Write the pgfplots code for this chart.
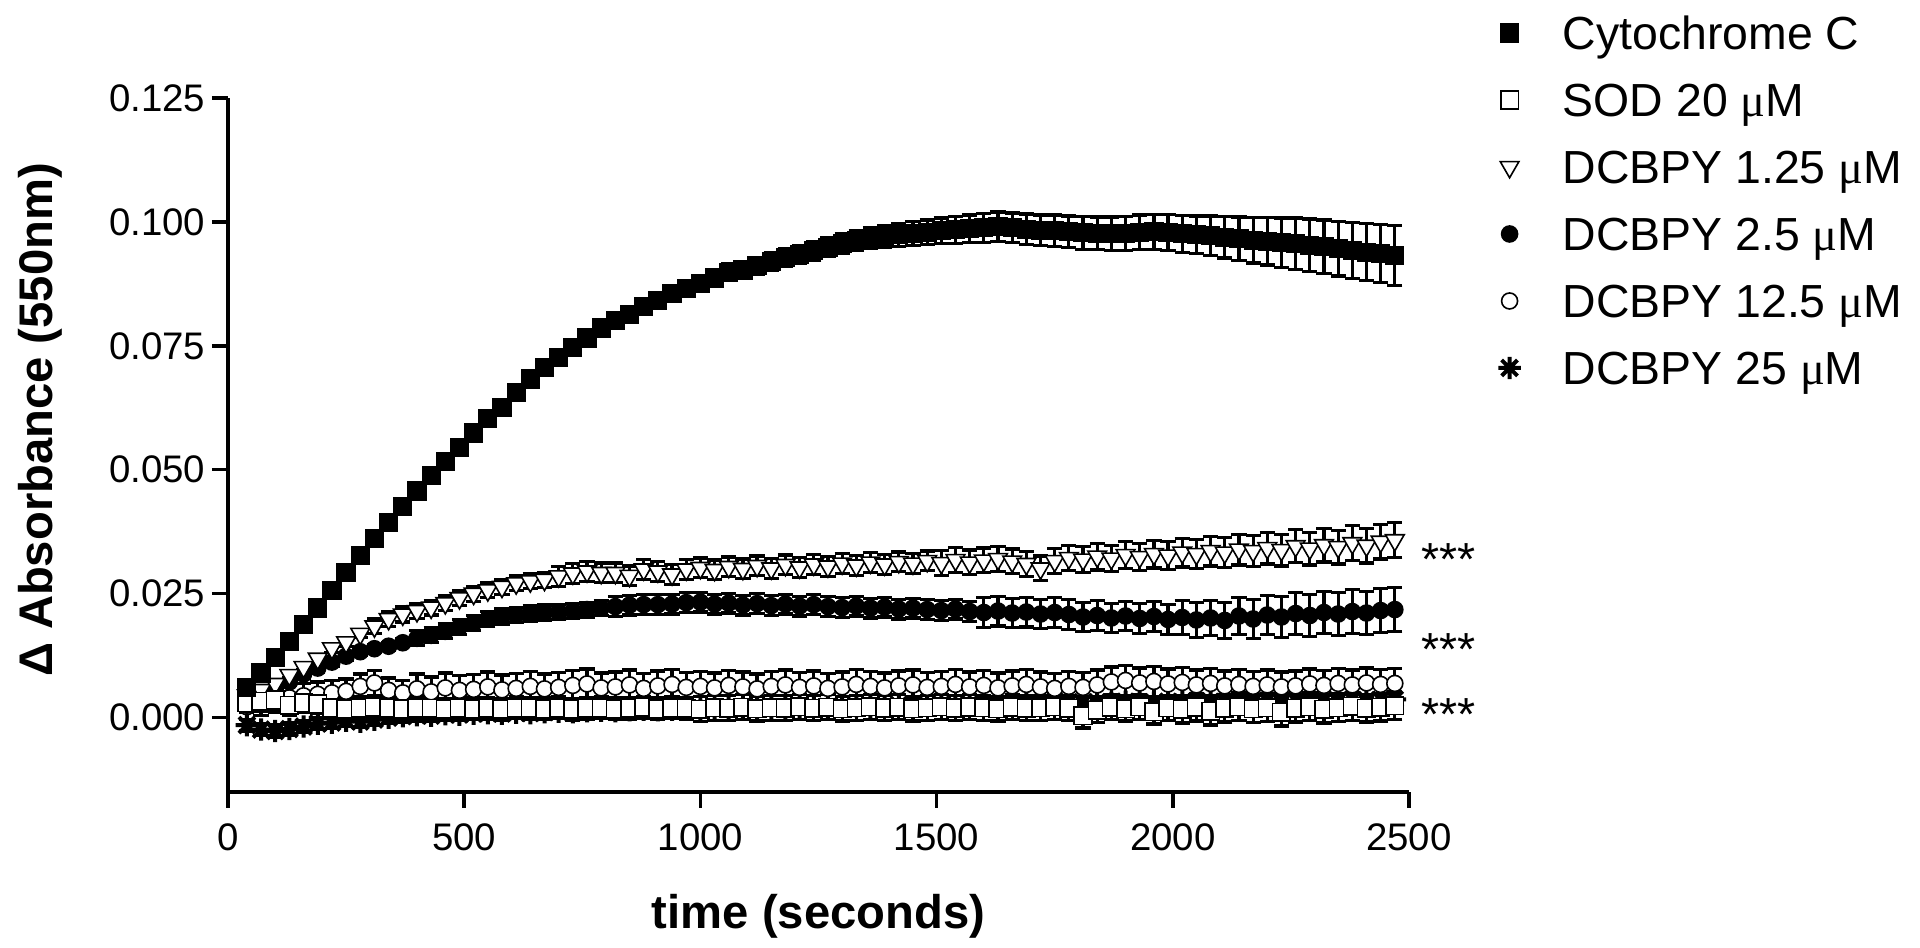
\documentclass[border=0pt]{standalone}
\usepackage{pgfplots}
\pgfplotsset{compat=1.18}
\usepackage{pgfplotstable}
\usepackage{fontspec}
\setmainfont{Liberation Sans}
\newfontfamily\muf{Liberation Serif}
\pgfdeclareplotmark{aster8}{%
  \pgfpathmoveto{\pgfqpoint{-\pgfplotmarksize}{0pt}}%
  \pgfpathlineto{\pgfqpoint{\pgfplotmarksize}{0pt}}%
  \pgfpathmoveto{\pgfqpoint{0pt}{-\pgfplotmarksize}}%
  \pgfpathlineto{\pgfqpoint{0pt}{\pgfplotmarksize}}%
  \pgfpathmoveto{\pgfqpoint{-0.7071\pgfplotmarksize}{-0.7071\pgfplotmarksize}}%
  \pgfpathlineto{\pgfqpoint{0.7071\pgfplotmarksize}{0.7071\pgfplotmarksize}}%
  \pgfpathmoveto{\pgfqpoint{-0.7071\pgfplotmarksize}{0.7071\pgfplotmarksize}}%
  \pgfpathlineto{\pgfqpoint{0.7071\pgfplotmarksize}{-0.7071\pgfplotmarksize}}%
  \pgfusepathqstroke}

\pgfplotstableread[row sep=\\]{
t v e\\
40 0.0060 0.0005\\ 70 0.0090 0.0005\\ 100 0.0122 0.0005\\ 130 0.0153 0.0006\\ 160 0.0188 0.0006\\ 190 0.0221 0.0006\\
220 0.0256 0.0007\\ 250 0.0292 0.0007\\ 280 0.0327 0.0007\\ 310 0.0362 0.0008\\ 340 0.0393 0.0008\\ 370 0.0426 0.0008\\
400 0.0457 0.0009\\ 430 0.0489 0.0009\\ 460 0.0517 0.0010\\ 490 0.0545 0.0010\\ 520 0.0574 0.0010\\ 550 0.0604 0.0011\\
580 0.0626 0.0011\\ 610 0.0656 0.0012\\ 640 0.0683 0.0012\\ 670 0.0706 0.0012\\ 700 0.0726 0.0013\\ 730 0.0746 0.0013\\
760 0.0766 0.0013\\ 790 0.0786 0.0014\\ 820 0.0801 0.0014\\ 850 0.0814 0.0014\\ 880 0.0830 0.0015\\ 910 0.0841 0.0015\\
940 0.0856 0.0015\\ 970 0.0866 0.0016\\ 1000 0.0876 0.0016\\ 1030 0.0887 0.0016\\ 1060 0.0898 0.0017\\ 1090 0.0903 0.0017\\
1120 0.0912 0.0017\\ 1150 0.0920 0.0018\\ 1180 0.0929 0.0018\\ 1210 0.0935 0.0018\\ 1240 0.0942 0.0019\\ 1270 0.0949 0.0019\\
1300 0.0956 0.0020\\ 1330 0.0962 0.0020\\ 1360 0.0967 0.0021\\ 1390 0.0970 0.0022\\ 1420 0.0974 0.0023\\ 1450 0.0977 0.0024\\
1480 0.0979 0.0025\\ 1510 0.0982 0.0026\\ 1540 0.0984 0.0027\\ 1570 0.0986 0.0028\\ 1600 0.0988 0.0029\\ 1630 0.0990 0.0030\\
1660 0.0988 0.0030\\ 1690 0.0985 0.0031\\ 1720 0.0983 0.0031\\ 1750 0.0982 0.0032\\ 1780 0.0980 0.0032\\ 1810 0.0978 0.0033\\
1840 0.0977 0.0033\\ 1870 0.0976 0.0034\\ 1900 0.0977 0.0034\\ 1930 0.0979 0.0035\\ 1960 0.0980 0.0035\\ 1990 0.0979 0.0036\\
2020 0.0976 0.0037\\ 2050 0.0974 0.0038\\ 2080 0.0972 0.0040\\ 2110 0.0969 0.0042\\ 2140 0.0966 0.0044\\ 2170 0.0963 0.0046\\
2200 0.0961 0.0048\\ 2230 0.0958 0.0050\\ 2260 0.0956 0.0052\\ 2290 0.0953 0.0053\\ 2320 0.0950 0.0054\\ 2350 0.0946 0.0055\\
2380 0.0942 0.0056\\ 2410 0.0939 0.0057\\ 2440 0.0936 0.0058\\ 2470 0.0932 0.0060\\
}\cyto

\pgfplotstableread[row sep=\\]{
t v e\\
40 0.0030 0.0020\\ 70 0.0033 0.0020\\ 100 0.0036 0.0020\\ 130 0.0025 0.0020\\ 160 0.0030 0.0020\\ 190 0.0028 0.0020\\
220 0.0020 0.0022\\ 250 0.0018 0.0022\\ 280 0.0020 0.0022\\ 310 0.0022 0.0022\\ 340 0.0019 0.0022\\ 370 0.0018 0.0022\\
400 0.0020 0.0022\\ 430 0.0019 0.0022\\ 460 0.0017 0.0022\\ 490 0.0020 0.0022\\ 520 0.0018 0.0022\\ 550 0.0019 0.0022\\
580 0.0017 0.0022\\ 610 0.0020 0.0022\\ 640 0.0019 0.0022\\ 670 0.0018 0.0022\\ 700 0.0020 0.0022\\ 730 0.0017 0.0022\\
760 0.0019 0.0022\\ 790 0.0020 0.0022\\ 820 0.0018 0.0022\\ 850 0.0019 0.0022\\ 880 0.0021 0.0022\\ 910 0.0018 0.0022\\
940 0.0020 0.0022\\ 970 0.0019 0.0022\\ 1000 0.0017 0.0025\\ 1030 0.0020 0.0025\\ 1060 0.0019 0.0025\\ 1090 0.0021 0.0025\\
1120 0.0018 0.0025\\ 1150 0.0020 0.0025\\ 1180 0.0019 0.0025\\ 1210 0.0022 0.0025\\ 1240 0.0019 0.0025\\ 1270 0.0021 0.0025\\
1300 0.0018 0.0025\\ 1330 0.0020 0.0025\\ 1360 0.0022 0.0025\\ 1390 0.0019 0.0025\\ 1420 0.0021 0.0025\\ 1450 0.0018 0.0025\\
1480 0.0020 0.0025\\ 1510 0.0022 0.0025\\ 1540 0.0019 0.0025\\ 1570 0.0021 0.0025\\ 1600 0.0020 0.0025\\ 1630 0.0018 0.0025\\
1660 0.0021 0.0025\\ 1690 0.0019 0.0025\\ 1720 0.0020 0.0025\\ 1750 0.0022 0.0025\\ 1780 0.0019 0.0025\\ 1810 0.0004 0.0025\\
1840 0.0015 0.0025\\ 1870 0.0021 0.0025\\ 1900 0.0018 0.0025\\ 1930 0.0022 0.0025\\ 1960 0.0012 0.0025\\ 1990 0.0020 0.0025\\
2020 0.0017 0.0028\\ 2050 0.0021 0.0028\\ 2080 0.0013 0.0028\\ 2110 0.0019 0.0028\\ 2140 0.0022 0.0028\\ 2170 0.0018 0.0028\\
2200 0.0020 0.0028\\ 2230 0.0011 0.0028\\ 2260 0.0019 0.0028\\ 2290 0.0022 0.0028\\ 2320 0.0017 0.0028\\ 2350 0.0020 0.0028\\
2380 0.0023 0.0028\\ 2410 0.0019 0.0028\\ 2440 0.0021 0.0028\\ 2470 0.0024 0.0028\\
}\sod

\pgfplotstableread[row sep=\\]{
t v e\\
40 0.0045 0.0008\\ 70 0.0056 0.0008\\ 100 0.0068 0.0008\\ 130 0.0086 0.0008\\ 160 0.0102 0.0008\\ 190 0.0119 0.0008\\
220 0.0140 0.0008\\ 250 0.0152 0.0008\\ 280 0.0169 0.0008\\ 310 0.0184 0.0015\\ 340 0.0199 0.0015\\ 370 0.0208 0.0015\\
400 0.0215 0.0015\\ 430 0.0222 0.0015\\ 460 0.0231 0.0015\\ 490 0.0241 0.0015\\ 520 0.0250 0.0015\\ 550 0.0257 0.0015\\
580 0.0264 0.0015\\ 610 0.0271 0.0015\\ 640 0.0275 0.0015\\ 670 0.0278 0.0015\\ 700 0.0285 0.0020\\ 730 0.0291 0.0020\\
760 0.0295 0.0020\\ 790 0.0292 0.0020\\ 820 0.0292 0.0020\\ 850 0.0286 0.0020\\ 880 0.0299 0.0020\\ 910 0.0295 0.0020\\
940 0.0289 0.0020\\ 970 0.0299 0.0020\\ 1000 0.0302 0.0020\\ 1030 0.0298 0.0020\\ 1060 0.0304 0.0020\\ 1090 0.0300 0.0020\\
1120 0.0306 0.0020\\ 1150 0.0301 0.0020\\ 1180 0.0308 0.0020\\ 1210 0.0303 0.0020\\ 1240 0.0309 0.0020\\ 1270 0.0305 0.0020\\
1300 0.0311 0.0020\\ 1330 0.0307 0.0020\\ 1360 0.0313 0.0020\\ 1390 0.0309 0.0020\\ 1420 0.0314 0.0020\\ 1450 0.0311 0.0020\\
1480 0.0316 0.0020\\ 1510 0.0312 0.0025\\ 1540 0.0318 0.0025\\ 1570 0.0313 0.0025\\ 1600 0.0317 0.0025\\ 1630 0.0320 0.0025\\
1660 0.0315 0.0025\\ 1690 0.0310 0.0025\\ 1720 0.0301 0.0025\\ 1750 0.0316 0.0025\\ 1780 0.0322 0.0025\\ 1810 0.0319 0.0027\\
1840 0.0325 0.0027\\ 1870 0.0321 0.0027\\ 1900 0.0328 0.0027\\ 1930 0.0324 0.0028\\ 1960 0.0330 0.0028\\ 1990 0.0327 0.0028\\
2020 0.0333 0.0029\\ 2050 0.0330 0.0029\\ 2080 0.0336 0.0030\\ 2110 0.0333 0.0030\\ 2140 0.0339 0.0031\\ 2170 0.0336 0.0031\\
2200 0.0342 0.0032\\ 2230 0.0338 0.0032\\ 2260 0.0346 0.0033\\ 2290 0.0341 0.0033\\ 2320 0.0348 0.0034\\ 2350 0.0344 0.0034\\
2380 0.0352 0.0035\\ 2410 0.0347 0.0035\\ 2440 0.0355 0.0035\\ 2470 0.0358 0.0035\\
}\dca

\pgfplotstableread[row sep=\\]{
t v e\\
40 0.0025 0.0008\\ 70 0.0040 0.0008\\ 100 0.0058 0.0008\\ 130 0.0072 0.0008\\ 160 0.0088 0.0008\\ 190 0.0100 0.0008\\
220 0.0112 0.0008\\ 250 0.0124 0.0008\\ 280 0.0133 0.0008\\ 310 0.0139 0.0008\\ 340 0.0144 0.0008\\ 370 0.0151 0.0008\\
400 0.0160 0.0015\\ 430 0.0166 0.0015\\ 460 0.0174 0.0015\\ 490 0.0183 0.0015\\ 520 0.0191 0.0015\\ 550 0.0199 0.0015\\
580 0.0204 0.0015\\ 610 0.0207 0.0015\\ 640 0.0210 0.0015\\ 670 0.0212 0.0015\\ 700 0.0213 0.0015\\ 730 0.0215 0.0015\\
760 0.0218 0.0015\\ 790 0.0221 0.0015\\ 820 0.0224 0.0020\\ 850 0.0227 0.0020\\ 880 0.0228 0.0020\\ 910 0.0228 0.0020\\
940 0.0229 0.0020\\ 970 0.0232 0.0020\\ 1000 0.0233 0.0020\\ 1030 0.0229 0.0020\\ 1060 0.0231 0.0020\\ 1090 0.0227 0.0020\\
1120 0.0230 0.0020\\ 1150 0.0226 0.0020\\ 1180 0.0229 0.0020\\ 1210 0.0225 0.0020\\ 1240 0.0228 0.0020\\ 1270 0.0224 0.0020\\
1300 0.0222 0.0020\\ 1330 0.0225 0.0020\\ 1360 0.0221 0.0020\\ 1390 0.0223 0.0020\\ 1420 0.0219 0.0020\\ 1450 0.0221 0.0020\\
1480 0.0218 0.0020\\ 1510 0.0216 0.0020\\ 1540 0.0219 0.0020\\ 1570 0.0214 0.0020\\ 1600 0.0212 0.0030\\ 1630 0.0215 0.0030\\
1660 0.0211 0.0030\\ 1690 0.0213 0.0030\\ 1720 0.0209 0.0030\\ 1750 0.0212 0.0030\\ 1780 0.0208 0.0030\\ 1810 0.0203 0.0030\\
1840 0.0206 0.0030\\ 1870 0.0201 0.0030\\ 1900 0.0205 0.0030\\ 1930 0.0200 0.0030\\ 1960 0.0204 0.0030\\ 1990 0.0198 0.0030\\
2020 0.0202 0.0035\\ 2050 0.0197 0.0035\\ 2080 0.0201 0.0036\\ 2110 0.0196 0.0037\\ 2140 0.0205 0.0038\\ 2170 0.0199 0.0039\\
2200 0.0207 0.0040\\ 2230 0.0203 0.0041\\ 2260 0.0210 0.0042\\ 2290 0.0206 0.0042\\ 2320 0.0212 0.0043\\ 2350 0.0209 0.0043\\
2380 0.0214 0.0044\\ 2410 0.0211 0.0044\\ 2440 0.0216 0.0045\\ 2470 0.0218 0.0045\\
}\dcb

\pgfplotstableread[row sep=\\]{
t v e\\
40 0.0022 0.0025\\ 70 0.0030 0.0025\\ 100 0.0036 0.0025\\ 130 0.0040 0.0025\\ 160 0.0044 0.0025\\ 190 0.0047 0.0025\\
220 0.0050 0.0025\\ 250 0.0053 0.0025\\ 280 0.0063 0.0025\\ 310 0.0070 0.0025\\ 340 0.0055 0.0025\\ 370 0.0050 0.0025\\
400 0.0058 0.0030\\ 430 0.0052 0.0030\\ 460 0.0060 0.0030\\ 490 0.0055 0.0030\\ 520 0.0057 0.0030\\ 550 0.0062 0.0030\\
580 0.0056 0.0030\\ 610 0.0059 0.0030\\ 640 0.0063 0.0030\\ 670 0.0058 0.0030\\ 700 0.0061 0.0030\\ 730 0.0065 0.0030\\
760 0.0068 0.0030\\ 790 0.0060 0.0030\\ 820 0.0062 0.0030\\ 850 0.0066 0.0030\\ 880 0.0059 0.0030\\ 910 0.0064 0.0030\\
940 0.0067 0.0030\\ 970 0.0061 0.0030\\ 1000 0.0063 0.0030\\ 1030 0.0060 0.0030\\ 1060 0.0065 0.0030\\ 1090 0.0062 0.0030\\
1120 0.0058 0.0030\\ 1150 0.0063 0.0030\\ 1180 0.0066 0.0030\\ 1210 0.0061 0.0030\\ 1240 0.0064 0.0030\\ 1270 0.0059 0.0030\\
1300 0.0062 0.0030\\ 1330 0.0067 0.0030\\ 1360 0.0063 0.0030\\ 1390 0.0060 0.0030\\ 1420 0.0064 0.0030\\ 1450 0.0066 0.0030\\
1480 0.0061 0.0030\\ 1510 0.0063 0.0030\\ 1540 0.0067 0.0030\\ 1570 0.0062 0.0030\\ 1600 0.0065 0.0030\\ 1630 0.0060 0.0030\\
1660 0.0064 0.0030\\ 1690 0.0067 0.0030\\ 1720 0.0062 0.0030\\ 1750 0.0059 0.0030\\ 1780 0.0063 0.0030\\ 1810 0.0061 0.0030\\
1840 0.0066 0.0030\\ 1870 0.0072 0.0030\\ 1900 0.0075 0.0030\\ 1930 0.0070 0.0030\\ 1960 0.0073 0.0030\\ 1990 0.0068 0.0030\\
2020 0.0071 0.0030\\ 2050 0.0066 0.0030\\ 2080 0.0069 0.0030\\ 2110 0.0064 0.0030\\ 2140 0.0067 0.0030\\ 2170 0.0063 0.0030\\
2200 0.0066 0.0030\\ 2230 0.0062 0.0030\\ 2260 0.0064 0.0030\\ 2290 0.0068 0.0030\\ 2320 0.0065 0.0030\\ 2350 0.0069 0.0030\\
2380 0.0066 0.0030\\ 2410 0.0070 0.0030\\ 2440 0.0067 0.0030\\ 2470 0.0069 0.0030\\
}\dcc

\pgfplotstableread[row sep=\\]{
t v e\\
40 -0.0015 0.0012\\ 70 -0.0024 0.0012\\ 100 -0.0027 0.0012\\ 130 -0.0023 0.0012\\ 160 -0.0018 0.0012\\ 190 -0.0012 0.0012\\
220 -0.0010 0.0012\\ 250 -0.0006 0.0012\\ 280 -0.0008 0.0012\\ 310 -0.0004 0.0012\\ 340 0.0000 0.0012\\ 370 0.0003 0.0012\\
400 0.0005 0.0012\\ 430 0.0004 0.0012\\ 460 0.0007 0.0012\\ 490 0.0006 0.0012\\ 520 0.0008 0.0012\\ 550 0.0009 0.0012\\
580 0.0008 0.0012\\ 610 0.0010 0.0012\\ 640 0.0009 0.0012\\ 670 0.0011 0.0012\\ 700 0.0012 0.0012\\ 730 0.0011 0.0012\\
760 0.0013 0.0012\\ 790 0.0014 0.0012\\ 820 0.0013 0.0012\\ 850 0.0015 0.0012\\ 880 0.0016 0.0012\\ 910 0.0015 0.0012\\
940 0.0016 0.0012\\ 970 0.0017 0.0012\\ 1000 0.0016 0.0012\\ 1030 0.0018 0.0012\\ 1060 0.0019 0.0012\\ 1090 0.0018 0.0012\\
1120 0.0019 0.0012\\ 1150 0.0020 0.0012\\ 1180 0.0019 0.0012\\ 1210 0.0021 0.0012\\ 1240 0.0022 0.0012\\ 1270 0.0021 0.0012\\
1300 0.0022 0.0012\\ 1330 0.0023 0.0012\\ 1360 0.0022 0.0012\\ 1390 0.0024 0.0012\\ 1420 0.0025 0.0012\\ 1450 0.0024 0.0012\\
1480 0.0025 0.0012\\ 1510 0.0026 0.0012\\ 1540 0.0025 0.0012\\ 1570 0.0027 0.0012\\ 1600 0.0028 0.0012\\ 1630 0.0027 0.0012\\
1660 0.0028 0.0012\\ 1690 0.0029 0.0012\\ 1720 0.0028 0.0012\\ 1750 0.0030 0.0012\\ 1780 0.0031 0.0012\\ 1810 0.0030 0.0012\\
1840 0.0031 0.0012\\ 1870 0.0030 0.0012\\ 1900 0.0032 0.0012\\ 1930 0.0031 0.0012\\ 1960 0.0030 0.0012\\ 1990 0.0032 0.0012\\
2020 0.0031 0.0012\\ 2050 0.0033 0.0012\\ 2080 0.0032 0.0012\\ 2110 0.0031 0.0012\\ 2140 0.0033 0.0012\\ 2170 0.0032 0.0012\\
2200 0.0034 0.0012\\ 2230 0.0033 0.0012\\ 2260 0.0034 0.0012\\ 2290 0.0033 0.0012\\ 2320 0.0035 0.0012\\ 2350 0.0034 0.0012\\
2380 0.0036 0.0012\\ 2410 0.0035 0.0012\\ 2440 0.0036 0.0012\\ 2470 0.0037 0.0012\\
}\dcd

\pgfplotsset{
  eb/.style={error bars/.cd, y dir=both, y explicit,
    error bar style={line width=0.8pt, black},
    error mark options={rotate=90, mark size=1.9pt, line width=0.8pt, black}},
  mk/.style={only marks, black, mark options={solid, line width=0.85pt}},
}

\begin{document}
\begin{tikzpicture}
\begin{axis}[
  at={(0pt,0pt)}, anchor=south west,
  scale only axis, width=295.25pt, height=173.5pt,
  xmin=0, xmax=2500, ymin=-0.015, ymax=0.125,
  axis lines=left, axis line style={-, line width=0.85pt, black},
  tick align=outside, major tick length=4pt,
  major tick style={line width=0.85pt, black},
  xtick={0,500,1000,1500,2000,2500},
  xticklabels={0,500,1000,1500,2000,2500},
  ytick={0,0.025,0.05,0.075,0.1,0.125},
  yticklabels={0.000,0.025,0.050,0.075,0.100,0.125},
  minor tick num=0,
  tick label style={font=\fontsize{9.6}{11}\selectfont},
  xticklabel style={inner sep=3.7pt},
  yticklabel style={inner sep=1.5pt},
  every axis x label/.style={at={(axis description cs:0.5,-0.196)}, anchor=base, font=\fontsize{11.8}{14}\selectfont\bfseries},
  every axis y label/.style={at={(axis description cs:-0.149,0.536)}, anchor=base, rotate=90, font=\fontsize{11.8}{14}\selectfont\bfseries},
  xlabel={time (seconds)},
  ylabel={Δ Absorbance (550nm)},
  clip=false,
  reverse legend,
  legend cell align=left,
  legend image code/.code={\draw[#1] plot coordinates {(0pt,0pt)};},
  legend style={draw=none, fill=none, inner sep=0pt, outer sep=0pt,
    at={(1.0757,1.1176)}, anchor=north west,
    font=\fontsize{11.6}{14}\selectfont,
    row sep=8.45pt, column sep=10.5pt,
    nodes={inner sep=0pt, text height=8.3pt, text depth=0pt}},
]
\addplot[mk, mark=aster8, mark size=2.8pt, mark options={line width=1pt}, eb] table[x=t,y=v,y error=e]{\dcd};
\addlegendentry{DCBPY 25 {\muf μ}M}
\addplot[mk, mark=*, mark size=2.0pt, mark options={fill=white}, eb] table[x=t,y=v,y error=e]{\dcc};
\addlegendentry{DCBPY 12.5 {\muf μ}M}
\addplot[mk, mark=*, mark size=2.0pt, mark options={fill=black}, eb] table[x=t,y=v,y error=e]{\dcb};
\addlegendentry{DCBPY 2.5 {\muf μ}M}
\addplot[mk, mark=triangle*, mark size=2.7pt, mark options={rotate=180, fill=white}, eb] table[x=t,y=v,y error=e]{\dca};
\addlegendentry{DCBPY 1.25 {\muf μ}M}
\addplot[mk, mark=square*, mark size=2.2pt, mark options={fill=white}, eb] table[x=t,y=v,y error=e]{\sod};
\addlegendentry{SOD 20 {\muf μ}M}
\addplot[mk, mark=square*, mark size=2.2pt, mark options={fill=black}, eb] table[x=t,y=v,y error=e]{\cyto};
\addlegendentry{Cytochrome C}
\node[anchor=base west, inner sep=0pt, font=\fontsize{11.6}{14}\selectfont] at (axis cs:2525,0.0286) {***};
\node[anchor=base west, inner sep=0pt, font=\fontsize{11.6}{14}\selectfont] at (axis cs:2525,0.0106) {***};
\node[anchor=base west, inner sep=0pt, font=\fontsize{11.6}{14}\selectfont] at (axis cs:2525,-0.0026) {***};
\end{axis}
\pgfresetboundingbox
\useasboundingbox (-57pt,-39pt) rectangle (423pt,198pt);
\end{tikzpicture}
\end{document}
